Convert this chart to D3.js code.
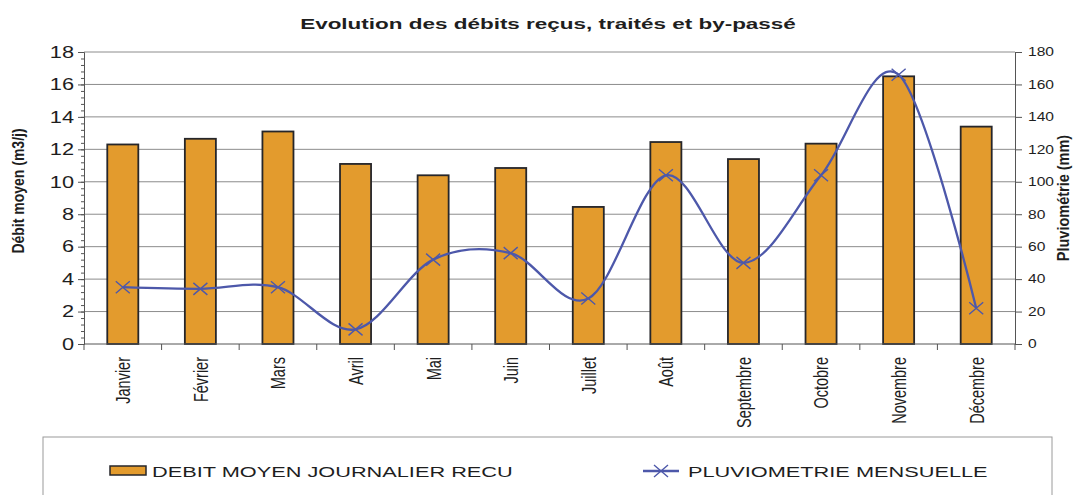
<!DOCTYPE html>
<html lang="fr">
<head>
  <meta charset="UTF-8">
  <title>Evolution des débits reçus, traités et by-passé</title>
  <script src="https://d3js.org/d3.v7.min.js"></script>
  <style>
    body { margin: 0; background: #fff; }
    svg { display: block; font-family: Arial, "Liberation Sans", sans-serif; }
    .grid line { stroke: #8c8c8c; stroke-width: 1; }
    .axis path, .axis line { stroke: #555; }
    .axis text { fill: #1e1e1e; }
  </style>
</head>
<body>
  <svg width="1077" height="495"></svg>

  <script>
    // données
    const months = ["Janvier", "Février", "Mars", "Avril", "Mai", "Juin", "Juillet", "Août",
                    "Septembre", "Octobre", "Novembre", "Décembre"];
    const debit = [12.3, 12.65, 13.1, 11.1, 10.4, 10.85, 8.45, 12.45, 11.4, 12.35, 16.5, 13.4];
    const pluvio = [35, 34, 35, 9, 52, 56, 28, 104, 50, 104, 166, 22];
    const debitTicks = [0, 2, 4, 6, 8, 10, 12, 14, 16, 18];
    const pluvioTicks = [0, 20, 40, 60, 80, 100, 120, 140, 160, 180];

    const svg = d3.select("svg");
    const SX = 1.42; // le scan est étiré horizontalement
    const pLeft = 84, pRight = 1015, pTop = 52, pBottom = 344;

    const x = d3.scaleBand().domain(months).range([pLeft, pRight]).paddingInner(0.6).paddingOuter(0.3);
    const y = d3.scaleLinear().domain([0, 18]).range([pBottom, pTop]);
    const y2 = d3.scaleLinear().domain([0, 180]).range([pBottom, pTop]);

    // titre
    svg.append("text")
      .attr("transform", `translate(548,29) scale(1.55,1)`)
      .attr("text-anchor", "middle")
      .style("font-weight", "bold")
      .style("font-size", "14.5px")
      .attr("fill", "#1e1e1e")
      .text("Evolution des débits reçus, traités et by-passé");

    // grille horizontale
    svg.append("g").attr("class", "grid")
      .selectAll("line").data(debitTicks.slice(1)).join("line")
      .attr("x1", pLeft).attr("x2", pRight)
      .attr("y1", d => y(d)).attr("y2", d => y(d));

    // axe gauche + petites graduations
    svg.append("g").attr("class", "axis")
      .attr("transform", `translate(${pLeft},0)`)
      .call(d3.axisLeft(y).tickValues(d3.range(0, 18.01, 0.4)).tickSize(3).tickFormat(""))
      .call(g => g.select(".domain").remove());
    const ax = svg.append("g").attr("class", "axis")
      .attr("transform", `translate(${pLeft},0)`)
      .call(d3.axisLeft(y).tickValues(debitTicks).tickSize(6).tickPadding(0));
    ax.selectAll("text")
      .attr("x", -10 / 1.32)
      .attr("transform", "scale(1.32,1)")
      .style("font-size", "16.5px");

    // axe droit
    const ax2 = svg.append("g").attr("class", "axis")
      .attr("transform", `translate(${pRight},0)`)
      .call(d3.axisRight(y2).tickValues(pluvioTicks).tickSize(7).tickPadding(0));
    ax2.selectAll("text")
      .attr("x", 13 / 1.3)
      .attr("transform", "scale(1.3,1)")
      .style("font-size", "12px");

    // barres
    svg.append("g").selectAll("rect").data(debit).join("rect")
      .attr("x", (d, i) => x(months[i]))
      .attr("y", d => y(d))
      .attr("width", x.bandwidth())
      .attr("height", d => pBottom - y(d))
      .attr("fill", "#e39b2d")
      .attr("stroke", "#26262a")
      .attr("stroke-width", 1.8);

    // axe des mois
    const ax3 = svg.append("g").attr("class", "axis")
      .attr("transform", `translate(0,${pBottom})`)
      .call(d3.axisBottom(x).tickSize(0));
    ax3.select(".domain").attr("d", `M${pLeft},0H${pRight}`);
    ax3.selectAll("text")
      .attr("x", -13).attr("y", 0).attr("dy", "0.36em")
      .attr("transform", `scale(${SX},1) rotate(-90)`)
      .style("text-anchor", "end")
      .style("font-size", "14.5px");
    svg.append("g").attr("class", "axis")
      .selectAll("line").data(d3.range(months.length + 1)).join("line")
      .attr("x1", i => pLeft + i * x.step()).attr("x2", i => pLeft + i * x.step())
      .attr("y1", pBottom).attr("y2", pBottom + 6)
      .attr("stroke", "#555");

    // courbe pluviométrie
    const cx = (d, i) => x(months[i]) + x.bandwidth() / 2;
    const line = d3.line().x(cx).y(d => y2(d)).curve(d3.curveCardinal.tension(0));
    svg.append("path")
      .datum(pluvio)
      .attr("d", line)
      .attr("fill", "none")
      .attr("stroke", "#4d58aa")
      .attr("stroke-width", 2.3);

    const cross = "M-7,-6L7,6M-7,6L7,-6";
    svg.append("g").selectAll("path").data(pluvio).join("path")
      .attr("transform", (d, i) => `translate(${cx(d, i)},${y2(d)})`)
      .attr("d", cross)
      .attr("stroke", "#4d58aa")
      .attr("stroke-width", 1.4)
      .attr("fill", "none");

    // titres des axes
    svg.append("text")
      .attr("transform", `translate(24,191) scale(1.2,1) rotate(-90)`)
      .attr("text-anchor", "middle")
      .style("font-weight", "bold").style("font-size", "14px")
      .attr("fill", "#1e1e1e")
      .text("Débit moyen (m3/j)");
    svg.append("text")
      .attr("transform", `translate(1069,198) scale(1.2,1) rotate(-90)`)
      .attr("text-anchor", "middle")
      .style("font-weight", "bold").style("font-size", "14.5px")
      .attr("fill", "#1e1e1e")
      .text("Pluviométrie (mm)");

    // légende
    const lg = svg.append("g");
    lg.append("rect")
      .attr("x", 43).attr("y", 437).attr("width", 1009).attr("height", 80)
      .attr("fill", "#fff").attr("stroke", "#9a9a9a");
    lg.append("rect")
      .attr("x", 110).attr("y", 466).attr("width", 36).attr("height", 9)
      .attr("fill", "#e39b2d").attr("stroke", "#26262a").attr("stroke-width", 1.5);
    lg.append("text")
      .attr("transform", `translate(152,477) scale(1.45,1)`)
      .style("font-size", "15px").attr("fill", "#1e1e1e")
      .text("DEBIT MOYEN JOURNALIER RECU");
    lg.append("line")
      .attr("x1", 643).attr("x2", 679).attr("y1", 471).attr("y2", 471)
      .attr("stroke", "#4d58aa").attr("stroke-width", 2.3);
    lg.append("path")
      .attr("transform", "translate(661,471)")
      .attr("d", cross)
      .attr("stroke", "#4d58aa").attr("stroke-width", 1.4).attr("fill", "none");
    lg.append("text")
      .attr("transform", `translate(688,477) scale(1.45,1)`)
      .style("font-size", "15px").attr("fill", "#1e1e1e")
      .text("PLUVIOMETRIE MENSUELLE");
  </script>
</body>
</html>
